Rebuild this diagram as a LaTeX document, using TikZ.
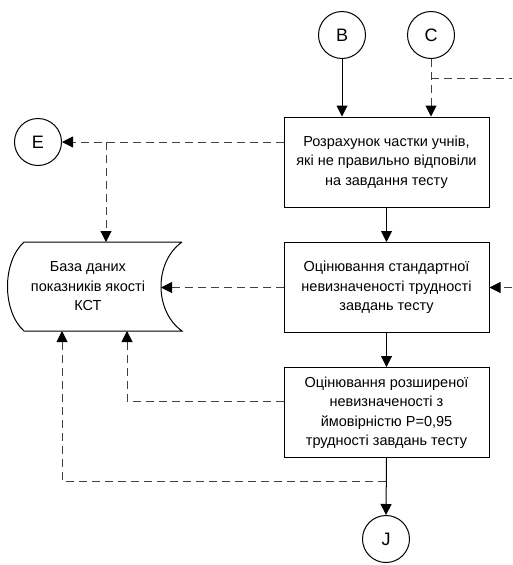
\documentclass[tikz,border=0pt]{standalone}
\usepackage{fontspec}
\setmainfont{Liberation Sans}
\usetikzlibrary{arrows.meta}
\begin{document}
\begin{tikzpicture}[x=1pt,y=-1pt,
  conn/.style={circle,draw,line width=1pt,minimum size=47pt,inner sep=0pt,font=\fontsize{18}{20}\selectfont},
  box/.style={draw,line width=1pt,minimum width=205pt,minimum height=90pt,align=center,inner sep=1pt,
    font=\fontsize{14.5}{19.5}\selectfont},
  arr/.style={line width=1pt,-{Triangle[length=11pt,width=11pt]}},
  dline/.style={line width=1pt,draw=black!75,dash pattern=on 8pt off 5pt},
  darr/.style={dline,-{Triangle[length=11pt,width=11pt,fill=black,color=black]}}]
\useasboundingbox (0,0) rectangle (512,565);
\node[conn] (B) at (342,35) {B};
\node[conn] (C) at (431,35) {C};
\node[conn] (E) at (38,142) {E};
\node[conn] (J) at (386,539) {J};
\node[box] (p1) at (386.5,162) {Розрахунок частки учнів,\\які не правильно відповіли\\на завдання тесту};
\node[box] (p2) at (386.5,287.5) {Оцінювання стандартної\\невизначеності трудності\\завдань тесту};
\node[box] (p3) at (386.5,412.5) {Оцінювання розширеної\\невизначеності з\\ймовірністю P=0,95\\трудності завдань тесту};
% database
\node[minimum width=175pt,minimum height=89pt,inner sep=0pt,align=center,font=\fontsize{14.5}{19.5}\selectfont] (db) at (88,286.5) {База даних\\показників якості\\КСТ};
\draw[line width=1pt] (182,242) -- (24,242) .. controls (2,262) and (2,311) .. (24,331) -- (182,331) .. controls (154,311) and (154,262) .. (182,242);
\coordinate (dbT) at (106,242);
\coordinate (dbR) at (161,287.5);
\coordinate (dbB1) at (127,331);
\coordinate (dbB2) at (62,331);
\coordinate (cR) at (512,78);
\coordinate (r2) at (512,287.5);
\coordinate (jb) at (386,481);
\coordinate (p1L) at ([yshift=20pt]p1.west);
% connectors
\draw[arr] (B.south) -- (B.south |- p1.north);
\draw[darr] (C.south) -- (C.south |- p1.north);
\draw[dline] (C.south |- cR) -- (cR);
\draw[darr] (p1L) -- (E.east);
\draw[darr] (p1L -| dbT) -- (dbT);
\draw[arr] (p1.south) -- (p2.north);
\draw[darr] (p2.west) -- (dbR);
\draw[darr] (r2) -- (p2.east);
\draw[arr] (p2.south) -- (p3.north);
\draw[darr] ([yshift=11.5pt]p3.west) -| (dbB1);
\draw[arr] (p3.south) -- (J.north);
\draw[darr] (jb) -| (dbB2);
\end{tikzpicture}
\end{document}
